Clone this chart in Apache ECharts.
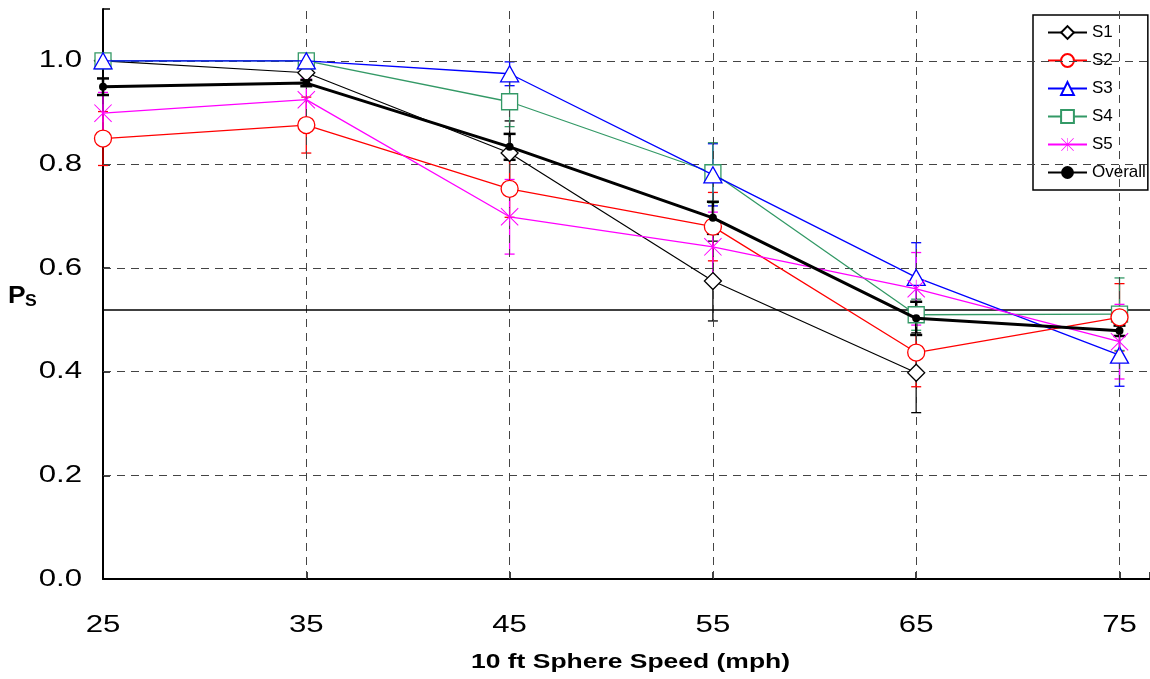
<!DOCTYPE html>
<html>
<head>
<meta charset="utf-8">
<script src="https://cdn.jsdelivr.net/npm/echarts@6/dist/echarts.min.js"></script>
<style>html,body{margin:0;padding:0;background:#fff;}#chart{width:1150px;height:679px;}</style>
</head>
<body>
<div id="chart"></div>
<script>
// ---- data ----
const speeds = [25, 35, 45, 55, 65, 75];
const s1 = [1.0, 0.977, 0.822, 0.575, 0.398, null];
const s1Err = [0, 0, 0.062, 0.077, 0.077, null];
const s2 = [0.85, 0.876, 0.753, 0.68, 0.437, 0.505];
const s2Err = [0.052, 0.054, 0.055, 0.066, 0.066, 0.065];
const s3 = [1.0, 1.0, 0.975, 0.78, 0.582, 0.432];
const s3Err = [0, 0, 0.023, 0.06, 0.067, 0.06];
const s4 = [1.0, 1.0, 0.921, 0.784, 0.51, 0.511];
const s4Err = [0, 0, 0.048, 0.058, 0.03, 0.07];
const s5 = [0.899, 0.925, 0.699, 0.641, 0.56, 0.458];
const s5Err = [0.04, 0.04, 0.072, 0.067, 0.07, 0.072];
const overall = [0.95, 0.957, 0.834, 0.697, 0.503, 0.479];
const overallErr = [0.016, 0.006, 0.025, 0.031, 0.032, 0.01];
const thresholdP = 0.524;
const xTicks = [25, 35, 45, 55, 65, 75];
const yTicks = [0.0, 0.2, 0.4, 0.6, 0.8, 1.0];
const xGrid = [35, 45, 55, 65, 75];
const yGrid = [0.2, 0.4, 0.6, 0.8, 1.0];
const xTitle = '10 ft Sphere Speed (mph)';

const FONT = 'Liberation Sans, Arial, sans-serif';
const asterisk = 'path://M48,0 L52,0 L52,100 L48,100 Z M0,4 L4,0 L100,96 L96,100 Z M96,0 L100,4 L4,100 L0,96 Z';

function pts(vals) { return speeds.map((x, i) => [x, vals[i]]).filter(p => p[1] != null); }

function lineSeries(name, vals, color, symbol, size, lw, hollow, z) {
  return {
    type: 'line', name: name, data: pts(vals),
    symbol: symbol, symbolSize: size, symbolKeepAspect: true, showAllSymbol: true,
    lineStyle: { color: color, width: lw },
    itemStyle: hollow ? { color: '#fff', borderColor: color, borderWidth: 1.3 } : { color: color, borderWidth: 0 },
    z: z, animation: false, silent: true
  };
}

function errSeries(name, vals, errs, color, lw, capW) {
  const data = [];
  speeds.forEach((x, i) => { if (vals[i] != null && errs[i]) data.push([x, vals[i] - errs[i], vals[i] + errs[i]]); });
  return {
    type: 'custom', name: name + ' err', data: data, z: 3, silent: true, animation: false,
    encode: { x: 0, y: [1, 2] },
    renderItem: function (params, api) {
      const x = api.value(0);
      const lo = api.coord([x, api.value(1)]);
      const hi = api.coord([x, api.value(2)]);
      const st = { stroke: color, lineWidth: lw };
      return {
        type: 'group', children: [
          { type: 'line', shape: { x1: lo[0], y1: lo[1], x2: hi[0], y2: hi[1] }, style: st },
          { type: 'line', shape: { x1: lo[0] - capW / 2, y1: lo[1], x2: lo[0] + capW / 2, y2: lo[1] }, style: st },
          { type: 'line', shape: { x1: hi[0] - capW / 2, y1: hi[1], x2: hi[0] + capW / 2, y2: hi[1] }, style: st }
        ]
      };
    }
  };
}

const C1 = '#000000', C2 = '#ff0000', C3 = '#0000ff', C4 = '#339966', C5 = '#ff00ff';

const chart = echarts.init(document.getElementById('chart'), null, { renderer: 'canvas' });
chart.setOption({
  animation: false,
  backgroundColor: '#fff',
  textStyle: { fontFamily: FONT },
  grid: { left: 103, right: 0, top: 9, bottom: 100, containLabel: false, outerBoundsMode: 'none' },
  xAxis: {
    type: 'value', min: 25, max: 76.5, interval: 10,
    axisLine: { show: true, lineStyle: { color: '#000', width: 2 } },
    axisTick: { show: true, inside: true, length: 7, lineStyle: { color: '#000', width: 1.5 } },
    axisLabel: { show: false },
    splitLine: { show: false }
  },
  yAxis: {
    type: 'value', min: 0, max: 1.1, interval: 0.2,
    axisLine: { show: true, lineStyle: { color: '#000', width: 2 } },
    axisTick: { show: true, inside: true, length: 7, lineStyle: { color: '#000', width: 1.5 } },
    axisLabel: { show: false },
    splitLine: { show: false }
  },
  legend: {
    orient: 'vertical', left: 1033, top: 15,
    data: ['S1', 'S2', 'S3', 'S4', 'S5', 'Overall'],
    itemWidth: 39, itemHeight: 16, itemGap: 11,
    padding: [9, 2, 9, 14],
    borderColor: '#000', borderWidth: 1.5, backgroundColor: '#fff',
    textStyle: { fontSize: 17, color: '#000', fontFamily: FONT }
  },
  series: [
    {
      type: 'line', name: 'grid', data: [], silent: true, z: 1,
      markLine: {
        silent: true, symbol: ['none', 'none'], label: { show: false }, animation: false,
        lineStyle: { color: '#444', type: [8, 6], width: 1 },
        data: yGrid.map(v => ({ yAxis: v })).concat(xGrid.map(v => ({ xAxis: v })))
          .concat([{ yAxis: thresholdP, lineStyle: { color: '#000', type: 'solid', width: 1.5 } }])
      }
    },
    errSeries('S1', s1, s1Err, C1, 1.3, 10),
    errSeries('S2', s2, s2Err, C2, 1.3, 10),
    errSeries('S3', s3, s3Err, C3, 1.3, 10),
    errSeries('S4', s4, s4Err, C4, 1.3, 10),
    errSeries('S5', s5, s5Err, C5, 1.3, 10),
    errSeries('Overall', overall, overallErr, '#000', 2.5, 12),
    lineSeries('S1', s1, C1, 'diamond', 17, 1.2, true, 5),
    lineSeries('S2', s2, C2, 'circle', 17, 1.3, true, 8),
    lineSeries('S3', s3, C3, 'triangle', [18, 16], 1.3, true, 7),
    lineSeries('S4', s4, C4, 'rect', 16, 1.3, true, 6),
    lineSeries('S5', s5, C5, asterisk, 18, 1.3, false, 9),
    lineSeries('Overall', overall, '#000', 'circle', 8, 3, false, 10)
  ]
});

// Tick labels and titles (horizontally widened text, positioned with the chart's own scales)
const gfx = [];
const SX = 1.3;
yTicks.forEach(v => {
  const p = chart.convertToPixel({ gridIndex: 0 }, [25, v]);
  gfx.push({ type: 'text', x: 82, y: p[1], scaleX: SX, silent: true,
    style: { text: v.toFixed(1), align: 'right', verticalAlign: 'middle', font: '24px ' + FONT, fill: '#000' } });
});
xTicks.forEach(v => {
  const p = chart.convertToPixel({ gridIndex: 0 }, [v, 0]);
  gfx.push({ type: 'text', x: p[0], y: p[1] + 46, scaleX: SX, silent: true,
    style: { text: String(v), align: 'center', verticalAlign: 'middle', font: '24px ' + FONT, fill: '#000' } });
});
const x0 = chart.convertToPixel({ gridIndex: 0 }, [25, 0]);
const x1 = chart.convertToPixel({ gridIndex: 0 }, [76.5, 0]);
gfx.push({ type: 'text', x: (x0[0] + x1[0]) / 2 + 4, y: x0[1] + 83, scaleX: 1.26, silent: true,
  style: { text: xTitle, align: 'center', verticalAlign: 'middle', font: 'bold 21px ' + FONT, fill: '#000' } });
gfx.push({ type: 'text', x: 8, y: 296, scaleX: 1.1, silent: true,
  style: { text: 'P', align: 'left', verticalAlign: 'middle', font: 'bold 24px ' + FONT, fill: '#000' } });
gfx.push({ type: 'text', x: 25, y: 302, scaleX: 1.1, silent: true,
  style: { text: 'S', align: 'left', verticalAlign: 'middle', font: 'bold 16px ' + FONT, fill: '#000' } });
chart.setOption({ graphic: gfx });
</script>
</body>
</html>
